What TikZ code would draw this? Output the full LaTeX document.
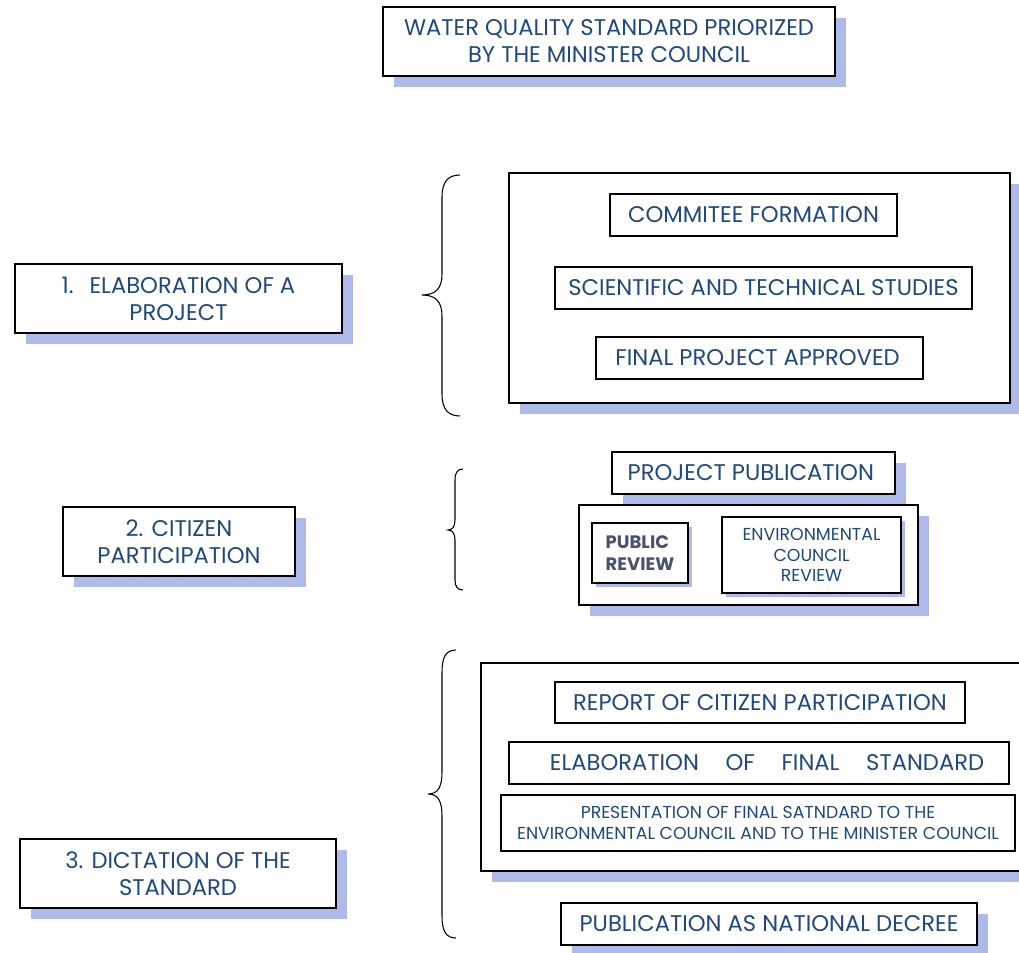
\documentclass[tikz,border=0pt]{standalone}
\usepackage{fontspec}
\setmainfont{Poppins}
\usetikzlibrary{fit,shadows}
\definecolor{txt}{RGB}{31,73,125}
\definecolor{shd}{RGB}{174,187,234}
\definecolor{pubtxt}{RGB}{75,80,112}
\begin{document}
\begin{tikzpicture}[x=0.75pt,y=-0.75pt,
  box/.style={draw=black, line width=1.3pt, fill=white, inner sep=0pt},
  lbl/.style={inner sep=0pt, text=txt, align=center, font=\fontsize{17}{20.2}\selectfont},
  smalltext/.style={font=\fontsize{13}{15.2}\selectfont},
  bigshadow/.style={drop shadow={shadow xshift=8.25pt, shadow yshift=-8.25pt, fill=shd, opacity=1}},
  smallshadow/.style={drop shadow={shadow xshift=3pt, shadow yshift=-3pt, fill=shd, opacity=1}},
  bracepath/.style={draw=black, line width=0.8pt}]
\useasboundingbox (0,0) rectangle (1019,952);
\clip (0,0) rectangle (1019,952);

% title
\node[box,bigshadow,fit={(383,7)(835,76)}] (title) {};
\node[lbl] (title-t) at (title.center) {WATER QUALITY STANDARD PRIORIZED\\BY THE MINISTER COUNCIL};

% group 1
\node[box,bigshadow,fit={(509,173)(1010,403)}] (g1) {};
\node[box,fit={(610,194)(897,236)}] (c1) {};
\node[lbl] (c1-t) at (c1.center) {COMMITEE FORMATION};
\node[box,fit={(555,267)(972,309)}] (c2) {};
\node[lbl] (c2-t) at (c2.center) {SCIENTIFIC AND TECHNICAL STUDIES};
\node[box,fit={(596,337)(923,379)}] (c3) {};
\node[lbl] (c3-t) at ([xshift=-1.5pt]c3.center) {FINAL PROJECT APPROVED};
\node[box,bigshadow,fit={(15,264)(342,333)}] (s1) {};
\node[lbl] (s1-t) at (s1.center) {1.\ \ \,ELABORATION OF A\\PROJECT};

% group 2
\node[box,bigshadow,fit={(612,452)(895,494)}] (p1) {};
\node[lbl] (p1-t) at ([xshift=-2pt]p1.center) {PROJECT PUBLICATION};
\node[box,bigshadow,fit={(579,505)(918,605)}] (g2) {};
\node[box,smallshadow,fit={(592,523)(688,583)}] (p2) {};
\node[lbl,align=left,text=pubtxt,font=\bfseries\fontsize{13.5}{17}\selectfont] (p2-t) at (p2.center) {PUBLIC\\REVIEW};
\node[box,smallshadow,fit={(722,517)(901,593)}] (p3) {};
\node[lbl,smalltext] (p3-t) at (p3.center) {ENVIRONMENTAL\\COUNCIL\\REVIEW};
\node[box,bigshadow,fit={(63,507)(295,576)}] (s2) {};
\node[lbl] (s2-t) at (s2.center) {2. CITIZEN\\PARTICIPATION};

% group 3
\node[box,bigshadow,fit={(481,663)(1040,871)}] (g3) {};
\node[box,fit={(555,682)(965,723)}] (d1) {};
\node[lbl] (d1-t) at (d1.center) {REPORT OF CITIZEN PARTICIPATION};
\node[box,fit={(509,742)(1009,784)}] (d2) {};
\node[lbl] (d2-t) at (d2.center) {\hspace*{12pt}ELABORATION\hspace{20pt}OF\hspace{20pt}FINAL\hspace{20pt}STANDARD};
\node[box,fit={(501,795)(1015,851)}] (d3) {};
\node[lbl,smalltext] (d3-t) at (d3.center) {PRESENTATION OF FINAL SATNDARD TO THE\\ENVIRONMENTAL COUNCIL AND TO THE MINISTER COUNCIL};
\node[box,bigshadow,fit={(561,903)(977,945)}] (d4) {};
\node[lbl] (d4-t) at (d4.center) {PUBLICATION AS NATIONAL DECREE};
\node[box,bigshadow,fit={(20,839)(336,908)}] (s3) {};
\node[lbl] (s3-t) at (s3.center) {3. DICTATION OF THE\\STANDARD};

% braces
\draw[bracepath] (460,175) .. controls (448,175) and (442,182) .. (442,197) -- (442,274)
  .. controls (442,288) and (436,295) .. (422,295)
  .. controls (436,295) and (442,302) .. (442,316) -- (442,394)
  .. controls (442,409) and (448,416) .. (460,416);
\draw[bracepath] (463,469) .. controls (458,469) and (455,472) .. (455,480) -- (455,520)
  .. controls (455,527) and (452,530) .. (448,530)
  .. controls (452,530) and (455,533) .. (455,540) -- (455,580)
  .. controls (455,587) and (458,590) .. (463,590);
\draw[bracepath] (456,650) .. controls (446,650) and (442,657) .. (442,672) -- (442,772)
  .. controls (442,787) and (438,794) .. (428,794)
  .. controls (438,794) and (442,801) .. (442,816) -- (442,916)
  .. controls (442,931) and (446,938) .. (456,938);
\end{tikzpicture}
\end{document}
